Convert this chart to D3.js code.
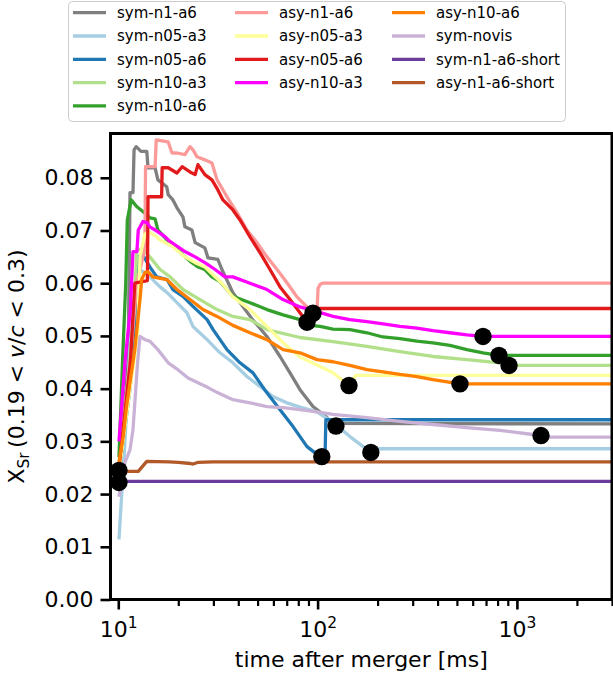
<!DOCTYPE html>
<html>
<head>
<meta charset="utf-8">
<script src="https://cdn.jsdelivr.net/npm/d3@7"></script>
<style>
  html, body { margin: 0; padding: 0; background: #ffffff; }
  svg { display: block; font-family: "DejaVu Sans", sans-serif; }
</style>
</head>
<body>
<svg id="chart" width="613" height="679"></svg>
<script>
// Run names, in legend order (column-major, 3 columns)
const seriesNames = [
  "sym-n1-a6", "sym-n05-a3", "sym-n05-a6", "sym-n10-a3", "sym-n10-a6",
  "asy-n1-a6", "asy-n05-a3", "asy-n05-a6", "asy-n10-a3", "asy-n10-a6",
  "sym-novis", "sym-n1-a6-short", "asy-n1-a6-short"
];
const seriesColors = [
  "#7f7f7f", "#a6cee3", "#1f78b4", "#b2df8a", "#33a02c",
  "#fb9a99", "#ffff99", "#e31a1c", "#ff00ff", "#ff7f00",
  "#cab2d6", "#6a3d9a", "#b15928"
];

// Sr mass fraction vs. time after merger: [t (ms), X_Sr]
const symN1A6 = [
  [10.08, 0.024], [11.2, 0.045], [11.4, 0.070], [11.45, 0.0772], [11.85, 0.0772],
  [12.0, 0.0853], [12.3, 0.0859], [13.0, 0.0850], [13.9, 0.0850], [14.1, 0.0819],
  [15.3, 0.0819], [15.8, 0.0796], [17.5, 0.0783], [17.8, 0.0768], [18.8, 0.0758],
  [19.7, 0.0743], [21.1, 0.0726], [21.6, 0.0707], [23.4, 0.0701], [24.3, 0.0677],
  [27.2, 0.0667], [28.2, 0.0648], [31.6, 0.0645], [33.1, 0.0626], [37.6, 0.0582],
  [42.2, 0.0556], [47.4, 0.0530], [55.7, 0.0499], [64.8, 0.0461], [72.7, 0.0430],
  [81.6, 0.0398], [94.8, 0.0366], [111.5, 0.0345], [115.4, 0.0334], [3000, 0.0333]
];
const symN05A3 = [
  [10.08, 0.0114], [10.8, 0.030], [11.45, 0.048], [12.1, 0.058], [12.9, 0.0625],
  [13.6, 0.0620], [14.4, 0.0612], [16.2, 0.0593], [17.6, 0.0582], [19.7, 0.0563],
  [22.1, 0.0544], [23.7, 0.0518], [27.9, 0.0493], [32.4, 0.0468], [37.6, 0.0449],
  [44.2, 0.0423], [51.4, 0.0404], [59.7, 0.0385], [70.2, 0.0373], [81.6, 0.0365],
  [99.3, 0.0356], [119.5, 0.0336], [145.3, 0.0309], [185, 0.0279], [190, 0.0286],
  [3000, 0.0286]
];
const symN05A6 = [
  [10.08, 0.024], [11.45, 0.040], [12.4, 0.055], [12.6, 0.0650], [13.3, 0.0653],
  [14.4, 0.0631], [15.6, 0.0612], [17.55, 0.0607], [18.8, 0.0588], [21.1, 0.0575],
  [23.7, 0.0556], [27.9, 0.0531], [29.9, 0.0512], [35.1, 0.0474], [40.8, 0.0449],
  [47.4, 0.0430], [55.7, 0.0392], [64.8, 0.0360], [75.3, 0.0328], [88.5, 0.0290],
  [102.8, 0.0271], [109, 0.0272], [110, 0.0341], [3000, 0.0341]
];
const symN10A3 = [
  [10.08, 0.026], [11.45, 0.045], [12.1, 0.058], [12.4, 0.0664], [13.3, 0.0664],
  [14.4, 0.0650], [16.2, 0.0626], [18.2, 0.0612], [21.1, 0.0588], [25.7, 0.0569],
  [31.3, 0.0550], [37.6, 0.0537], [45.8, 0.0531], [55.7, 0.0512], [81.6, 0.0497],
  [119.5, 0.0489], [176.7, 0.0480], [258.9, 0.0470], [379.4, 0.0461], [561, 0.0455],
  [822, 0.0449], [913, 0.0444], [3000, 0.0444]
];
const symN10A6 = [
  [10.08, 0.027], [10.5, 0.045], [10.9, 0.060], [11.1, 0.072], [11.6, 0.0758],
  [12.4, 0.0745], [13.0, 0.0739], [13.9, 0.0730], [14.4, 0.0724], [15.3, 0.0722],
  [15.8, 0.0701], [17.55, 0.0682], [18.6, 0.0673], [19.9, 0.0663], [21.6, 0.0650],
  [23.4, 0.0639], [25.1, 0.0631], [27.2, 0.0626], [29.5, 0.0612], [32.4, 0.0603],
  [37.6, 0.0575], [45.8, 0.0563], [55.7, 0.0550], [67.1, 0.0540], [81.6, 0.0531],
  [91.6, 0.0520], [102.8, 0.0518], [119.5, 0.0513], [145.3, 0.0512], [176.7, 0.0506],
  [212.6, 0.0498], [258.9, 0.0495], [315, 0.0490], [379, 0.0487], [461, 0.0482],
  [561, 0.0474], [676, 0.0468], [813, 0.0463], [3000, 0.0463]
];
const asyN1A6 = [
  [10.08, 0.024], [11.45, 0.045], [12.4, 0.060], [13.3, 0.065], [13.6, 0.067],
  [13.7, 0.0821], [15.3, 0.0821], [15.5, 0.0872], [17.8, 0.0868], [18.6, 0.0847],
  [19.7, 0.0847], [21.6, 0.0844], [22.9, 0.0859], [23.7, 0.0853], [24.8, 0.0840],
  [27.2, 0.0834], [29.5, 0.0828], [31.3, 0.0796], [35.1, 0.0764], [39.4, 0.0734],
  [44.2, 0.0701], [49.65, 0.0677], [55.7, 0.0650], [62.6, 0.0626], [70.2, 0.0601],
  [78.8, 0.0574], [88.5, 0.0555], [94.8, 0.0546], [99.3, 0.0544], [100.5, 0.0590],
  [103, 0.0598], [106, 0.0600], [3000, 0.0600]
];
const asyN05A3 = [
  [10.08, 0.024], [11.45, 0.040], [12.5, 0.050], [12.85, 0.065], [13.6, 0.0693],
  [14.4, 0.0696], [15.3, 0.0690], [16.2, 0.0682], [18.6, 0.0670], [21.6, 0.0650],
  [24.3, 0.0639], [27.2, 0.0631], [30.6, 0.0612], [33.1, 0.0600], [37.6, 0.0574],
  [45.8, 0.0550], [55.7, 0.0518], [67.1, 0.0487], [81.6, 0.0460], [99.3, 0.0445],
  [119.5, 0.0430], [143.7, 0.0406], [150.5, 0.0408], [152, 0.0420], [155, 0.0425],
  [3000, 0.0425]
];
const asyN05A6 = [
  [10.08, 0.025], [11.5, 0.045], [12.1, 0.060], [14.0, 0.0605], [14.1, 0.0764],
  [16.5, 0.0764], [16.6, 0.0819], [17.8, 0.0819], [19.7, 0.0809], [20.9, 0.0821],
  [22.9, 0.0811], [24.3, 0.0806], [25.1, 0.0825], [27.2, 0.0806], [29.5, 0.0796],
  [31.6, 0.0777], [33.5, 0.0758], [37.6, 0.0739], [40.8, 0.0720], [45.8, 0.0688],
  [51.4, 0.0658], [57.7, 0.0626], [64.8, 0.0593], [72.7, 0.0569], [81.6, 0.0544],
  [86.5, 0.0531], [88.5, 0.0526], [90.5, 0.0550], [92, 0.0552], [3000, 0.0552]
];
const asyN10A3 = [
  [10.08, 0.030], [10.8, 0.045], [11.5, 0.055], [11.85, 0.0660], [12.4, 0.0660],
  [12.6, 0.0701], [13.3, 0.0717], [13.9, 0.0715], [14.4, 0.0707], [15.3, 0.0701],
  [17.2, 0.0688], [17.8, 0.0682], [19.25, 0.0673], [21.6, 0.0660], [24.3, 0.0650],
  [27.2, 0.0639], [30.6, 0.0626], [34.3, 0.0612], [37.6, 0.0612], [45.8, 0.0600],
  [55.7, 0.0588], [67.1, 0.0569], [81.6, 0.0555], [99.3, 0.0546], [119.5, 0.0537],
  [145, 0.0531], [177, 0.0527], [213, 0.0523], [259, 0.0518], [315, 0.0515],
  [379, 0.0510], [461, 0.0506], [561, 0.0502], [676, 0.0499], [3000, 0.0499]
];
const asyN10A6 = [
  [10.08, 0.026], [10.6, 0.031], [11.0, 0.0366], [12.1, 0.0474], [12.85, 0.0569],
  [13.1, 0.0607], [13.6, 0.0620], [14.1, 0.0622], [14.9, 0.0612], [17.5, 0.0607],
  [19.7, 0.0588], [22.9, 0.0569], [26.6, 0.0550], [31.3, 0.0537], [37.6, 0.0520],
  [45.8, 0.0506], [55.7, 0.0493], [67.1, 0.0474], [81.6, 0.0468], [99.3, 0.0455],
  [119.5, 0.0451], [145, 0.0444], [177, 0.0436], [213, 0.0432], [259, 0.0427],
  [315, 0.0423], [379, 0.0417], [518, 0.0409], [3000, 0.0409]
];
const symNovis = [
  [10.08, 0.0195], [10.8, 0.0260], [11.45, 0.0284], [11.85, 0.0322], [12.5, 0.0450],
  [12.85, 0.0499], [13.6, 0.0493], [14.4, 0.0490], [15.8, 0.0474], [17.8, 0.0449],
  [19.9, 0.0436], [22.4, 0.0420], [25.1, 0.0411], [28.2, 0.0402], [31.6, 0.0392],
  [37.6, 0.0379], [45.8, 0.0373], [55.7, 0.0366], [67.1, 0.0364], [81.6, 0.0360],
  [99.3, 0.0356], [119.5, 0.0351], [177, 0.0345], [259, 0.0338], [379, 0.0332],
  [561, 0.0326], [822, 0.0321], [1204, 0.0313], [1321, 0.0311], [1400, 0.0308],
  [3000, 0.0308]
];
const symN1A6Short = [[10.08, 0.0224], [3000, 0.0224]];
const asyN1A6Short = [
  [10.08, 0.0243], [12.6, 0.0243], [13.9, 0.0262], [18.0, 0.0261], [20.0, 0.0260],
  [23.0, 0.0258], [23.7, 0.0257], [25.0, 0.0260], [30.0, 0.0261], [3000, 0.0261]
];

const seriesData = [
  symN1A6, symN05A3, symN05A6, symN10A3, symN10A6,
  asyN1A6, asyN05A3, asyN05A6, asyN10A3, asyN10A6,
  symNovis, symN1A6Short, asyN1A6Short
];

// End-of-run marker for each run (same order as seriesNames)
const markerTimes  = [123.6, 185, 105, 913, 813, 94.8, 143.7, 88.5, 676, 518, 1321, 10.08, 10.08];
const markerValues = [0.0329, 0.0279, 0.0271, 0.0444, 0.0463, 0.0543, 0.0406, 0.0526, 0.0499, 0.0409, 0.0311, 0.0222, 0.0245];

// Axis ticks
const yTicks = [0, 0.01, 0.02, 0.03, 0.04, 0.05, 0.06, 0.07, 0.08];
const xMajorTicks = [10, 100, 1000];
const xMajorExponents = ["1", "2", "3"];
const xMinorTicks = [20, 30, 40, 50, 60, 70, 80, 90, 200, 300, 400, 500, 600, 700, 800, 900, 2000, 3000];
const xDomain = [9.14, 3000];
const yDomain = [0, 0.0884];

const svg = d3.select("#chart");
const plotLeft = 110.5, plotRight = 612, plotTop = 133.5, plotBottom = 599.5;

const x = d3.scaleLog().domain(xDomain).range([plotLeft, plotRight]);
const y = d3.scaleLinear().domain(yDomain).range([plotBottom, plotTop]);

// Clip region for the data
svg.append("defs").append("clipPath").attr("id", "plotClip")
  .append("rect").attr("x", plotLeft).attr("y", plotTop)
  .attr("width", plotRight - plotLeft).attr("height", plotBottom - plotTop);

const plot = svg.append("g").attr("clip-path", "url(#plotClip)");
const line = d3.line().x(d => x(d[0])).y(d => y(d[1]));

seriesData.forEach((data, i) => {
  plot.append("path")
    .datum(data)
    .attr("d", line)
    .attr("fill", "none")
    .attr("stroke", seriesColors[i])
    .attr("stroke-width", 3.3)
    .attr("stroke-linejoin", "round")
    .attr("stroke-linecap", "butt");
});

// End-of-run markers
const markers = markerTimes.map((t, i) => [t, markerValues[i]]);
svg.append("g").selectAll("circle").data(markers).join("circle")
  .attr("cx", d => x(d[0]))
  .attr("cy", d => y(d[1]))
  .attr("r", 8.7)
  .attr("fill", "#000");

// Y axis
const yAxis = d3.axisLeft(y).tickValues(yTicks).tickFormat(d3.format(".2f"))
  .tickSize(10).tickPadding(7);
const gy = svg.append("g").attr("transform", `translate(${plotLeft},0)`).call(yAxis);
gy.select(".domain").remove();
gy.selectAll(".tick line").attr("stroke", "#000").attr("stroke-width", 2.6);
gy.selectAll(".tick text").attr("font-size", 22).attr("fill", "#000")
  .attr("font-family", "DejaVu Sans, sans-serif");

// X axis: minor ticks
const xMinor = d3.axisBottom(x).tickValues(xMinorTicks).tickFormat("").tickSize(6.5);
const gxm = svg.append("g").attr("transform", `translate(0,${plotBottom})`).call(xMinor);
gxm.select(".domain").remove();
gxm.selectAll(".tick line").attr("stroke", "#000").attr("stroke-width", 2.2);

// X axis: major ticks with power-of-ten labels
const xMajor = d3.axisBottom(x).tickValues(xMajorTicks).tickFormat("").tickSize(10);
const gx = svg.append("g").attr("transform", `translate(0,${plotBottom})`).call(xMajor);
gx.select(".domain").remove();
gx.selectAll(".tick line").attr("stroke", "#000").attr("stroke-width", 2.6);
gx.selectAll(".tick").each(function(d, i) {
  const t = d3.select(this).append("text")
    .attr("y", 37.5)
    .attr("text-anchor", "middle")
    .attr("fill", "#000")
    .attr("font-size", 22)
    .attr("font-family", "DejaVu Sans, sans-serif");
  t.append("tspan").text("10");
  t.append("tspan").attr("font-size", 15.5).attr("dy", -9).text(xMajorExponents[i]);
});

// Axes frame
svg.append("rect")
  .attr("x", plotLeft).attr("y", plotTop)
  .attr("width", plotRight - plotLeft).attr("height", plotBottom - plotTop)
  .attr("fill", "none").attr("stroke", "#000").attr("stroke-width", 3);

// Axis labels
svg.append("text")
  .attr("x", (plotLeft + plotRight) / 2).attr("y", 667)
  .attr("text-anchor", "middle").attr("font-size", 22).attr("fill", "#000")
  .text("time after merger [ms]");

const yl = svg.append("text")
  .attr("transform", `translate(24,${(plotTop + plotBottom) / 2}) rotate(-90)`)
  .attr("text-anchor", "middle").attr("font-size", 22).attr("fill", "#000");
yl.append("tspan").text("X");
yl.append("tspan").attr("font-size", 15.5).attr("dy", 5).text("Sr");
yl.append("tspan").attr("dy", -5).text("\u2009(0.19 < ");
yl.append("tspan").attr("font-style", "italic").text("v");
yl.append("tspan").text("/");
yl.append("tspan").attr("font-style", "italic").text("c");
yl.append("tspan").text(" < 0.3)");

// Legend
const legend = svg.append("g");
legend.append("rect")
  .attr("x", 68.5).attr("y", 1.5).attr("width", 497).attr("height", 120)
  .attr("rx", 4).attr("fill", "#fff").attr("fill-opacity", 0.8)
  .attr("stroke", "#cccccc").attr("stroke-width", 1);
const colX = [73, 235, 392];
const rowsPerCol = [5, 4, 4];
const rowY0 = 12.7, rowStep = 23.3;
let idx = 0;
rowsPerCol.forEach((n, c) => {
  for (let r = 0; r < n; r++, idx++) {
    const ly = rowY0 + r * rowStep;
    legend.append("line")
      .attr("x1", colX[c]).attr("x2", colX[c] + 33)
      .attr("y1", ly).attr("y2", ly)
      .attr("stroke", seriesColors[idx]).attr("stroke-width", 3.3);
    legend.append("text")
      .attr("x", colX[c] + 44).attr("y", ly + 5.3)
      .attr("font-size", 15).attr("fill", "#000")
      .text(seriesNames[idx]);
  }
});
</script>
</body>
</html>
